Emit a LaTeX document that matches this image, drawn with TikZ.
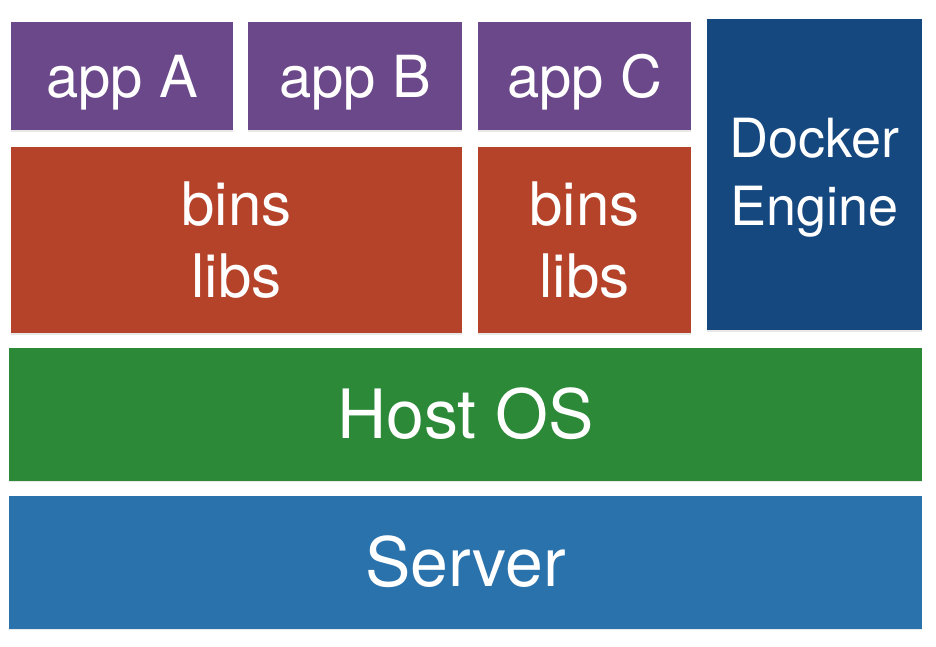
\documentclass[tikz,border=0pt]{standalone}
\usepackage{fontspec}
\setmainfont{TeX Gyre Heros}
\usetikzlibrary{shadows}

\definecolor{appPurple}{RGB}{106,72,138}
\definecolor{libRed}{RGB}{181,67,42}
\definecolor{engineNavy}{RGB}{22,72,128}
\definecolor{osGreen}{RGB}{43,137,56}
\definecolor{serverBlue}{RGB}{41,114,172}

\begin{document}
\begin{tikzpicture}[
        x=1pt, y=-1pt,
        layer/.style={rectangle, inner sep=0pt, text=white, align=center,
            drop shadow={opacity=0.18, shadow xshift=0pt, shadow yshift=-1.5pt}},
        appbox/.style={layer, fill=appPurple, minimum height=108pt,
            text height=42pt, text depth=0pt,
            font=\fontsize{58}{70}\selectfont},
        libbox/.style={layer, fill=libRed, minimum height=186pt,
            font=\fontsize{60}{72}\selectfont},
        basebox/.style={layer, minimum width=913pt, minimum height=133pt,
            text height=49pt, text depth=0pt,
            font=\fontsize{68}{80}\selectfont}
    ]
        \useasboundingbox (0,0) rectangle (936,646);

        % Apps
        \node[appbox, minimum width=222pt] (appA) at (122,76) {app A};
        \node[appbox, minimum width=214pt] (appB) at (355,76) {app B};
        \node[appbox, minimum width=213pt] (appC) at (584.5,76) {app C};

        % Bins / libs
        \node[libbox, minimum width=451pt] (libsAB) at (236.5,240) {bins\\libs};
        \node[libbox, minimum width=213pt] (libsC) at (584.5,240) {bins\\libs};

        % Engine
        \node[layer, fill=engineNavy, minimum width=215pt, minimum height=311pt,
            font=\fontsize{54}{68}\selectfont] (engine) at (814.5,174.5)
            {\rule{0pt}{45pt}Docker\\Engine};

        % Host and server
        \node[basebox, fill=osGreen] (host) at (465.5,414) {Host OS};
        \node[basebox, fill=serverBlue] (server) at (465.5,562) {Server};
    \end{tikzpicture}
\end{document}
